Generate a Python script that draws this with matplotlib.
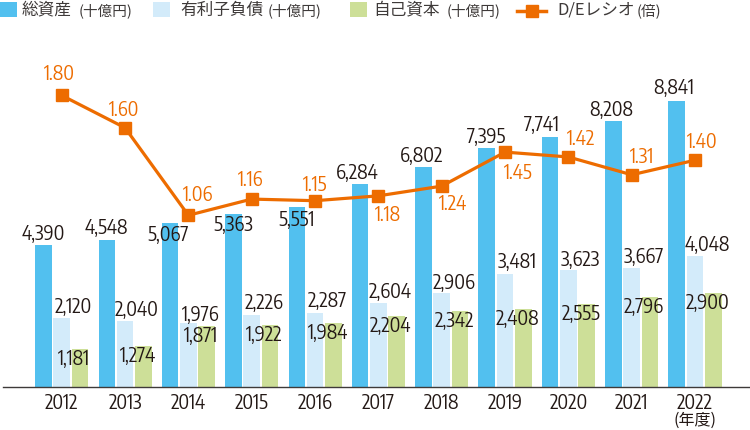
import matplotlib
matplotlib.use("Agg")
import matplotlib.pyplot as plt
from matplotlib.patches import Rectangle
from matplotlib.lines import Line2D
from matplotlib import font_manager as fm
from matplotlib.textpath import TextPath
import numpy as np
import os

# ---------------- data ----------------
years = ["2012", "2013", "2014", "2015", "2016", "2017", "2018", "2019", "2020", "2021", "2022"]
total_assets = [4390, 4548, 5067, 5363, 5551, 6284, 6802, 7395, 7741, 8208, 8841]
interest_debt = [2120, 2040, 1976, 2226, 2287, 2604, 2906, 3481, 3623, 3667, 4048]
equity = [1181, 1274, 1871, 1922, 1984, 2204, 2342, 2408, 2555, 2796, 2900]
de_ratio = [1.80, 1.60, 1.06, 1.16, 1.15, 1.18, 1.24, 1.45, 1.42, 1.31, 1.40]

legend_main = ["総資産", "有利子負債", "自己資本", "D/Eレシオ"]
legend_unit = ["(十億円)", "(十億円)", "(十億円)", "(倍)"]
year_unit = "(年度)"

# ---------------- styles ----------------
C_BLUE = "#52C0EF"
C_LBLUE = "#D3EBFA"
C_GREEN = "#CDDF98"
C_ORANGE = "#ED6C00"
C_TEXT = "#231815"
C_LEG = "#3E3A39"

CJK_FONT = ["Noto Sans CJK JP", "DejaVu Sans"]

W, H = 750, 430
PT = 0.72  # points per pixel at dpi 100
TARGET_W = 32.3  # ink width of "2012" in the reference, pixels


def pick_number_font():
    prefs = ["encodesanscondensedregular.ttf", "barlowcondensedregular.ttf",
             "ptsansnarrowwebregular.ttf", "robotocondensedregular.ttf"]
    files = {}
    for f in fm.fontManager.ttflist:
        key = os.path.basename(f.fname).lower().replace("-", "").replace("_", "")
        files[key] = f.fname
    for p in prefs:
        if p in files:
            fp = fm.FontProperties(fname=files[p])
            ext = TextPath((0, 0), "2012", size=100, prop=fp).get_extents()
            return fm.FontProperties(fname=files[p], size=100 * TARGET_W / ext.width * PT)
    fp = fm.FontProperties(family="Liberation Sans")
    ext = TextPath((0, 0), "2012", size=100, prop=fp).get_extents()
    return fm.FontProperties(family="Liberation Sans", size=100 * TARGET_W / ext.width * PT)


NUMFP = pick_number_font()

# label offsets in pixels (dx, dy up)
blue_dx = [0, 0, -2.5, 0, 0, -3, -2, 0, -8, -2.5, -2.7]
blue_dy = [11, 12, -12, -11.5, -13, 11, 11, 11, 12, 11, 13]
lb_dy = [11, 11, 8, 11.5, 12, 11, 10, 12, 10, 11, 10.7]
de_dx = [-2, -1, 10, -1.6, 0, 10, 11, 13, 13, 10, 7]
de_dy = [21, 18, 20, 19, 16, -19, -18, -21, 18, 18, 18]

fig = plt.figure(figsize=(W / 100, H / 100), dpi=100)
ax = fig.add_axes([3 / W, 43 / H, 747 / W, 347 / H])
ax2 = ax.twinx()

x = np.arange(len(years))
off = 0.288
bw = 0.262

ax.bar(x - off, total_assets, bw, color=C_BLUE, zorder=2)
ax.bar(x, interest_debt, bw, color=C_LBLUE, zorder=2)
ax.bar(x + off, equity, bw, color=C_GREEN, zorder=2)

ax.set_xlim(-0.927, 10.868)
ax.set_ylim(0, 10726)
ax2.set_ylim(0, 2.142)

for s in ["left", "right", "top"]:
    ax.spines[s].set_visible(False)
    ax2.spines[s].set_visible(False)
ax2.spines["bottom"].set_visible(False)
ax.spines["bottom"].set_color("#3E3A39")
ax.spines["bottom"].set_linewidth(1.0)
ax.set_yticks([])
ax2.set_yticks([])
ax.set_xticks(x)
ax.set_xticklabels(years, fontproperties=NUMFP, color=C_TEXT)
ax.tick_params(axis="x", length=0, pad=4)

# bar labels
for i in range(len(years)):
    ax.annotate(f"{total_assets[i]:,}", xy=(x[i] - off, total_assets[i]),
                xytext=(blue_dx[i] * PT, blue_dy[i] * PT), textcoords="offset points",
                ha="center", va="center", fontproperties=NUMFP, color=C_TEXT, zorder=5)
    ax.annotate(f"{interest_debt[i]:,}", xy=(x[i], interest_debt[i]),
                xytext=(12 * PT, lb_dy[i] * PT), textcoords="offset points",
                ha="center", va="center", fontproperties=NUMFP, color=C_TEXT, zorder=5)
    ax.annotate(f"{equity[i]:,}", xy=(x[i], equity[i]),
                xytext=(12.5 * PT, -10 * PT), textcoords="offset points",
                ha="center", va="center", fontproperties=NUMFP, color=C_TEXT, zorder=5)

# year unit
ax.annotate(year_unit, xy=(x[-1], 0), xytext=(0, -33 * PT), textcoords="offset points",
            ha="center", va="center", fontsize=11.5, family=CJK_FONT, color=C_TEXT,
            annotation_clip=False)

# D/E line
ax2.plot(x, de_ratio, color=C_ORANGE, lw=2.3, marker="s", ms=8.5,
         mfc=C_ORANGE, mec=C_ORANGE, zorder=4, clip_on=False)
for i in range(len(years)):
    ax2.annotate(f"{de_ratio[i]:.2f}", xy=(x[i], de_ratio[i]),
                 xytext=(de_dx[i] * PT, de_dy[i] * PT), textcoords="offset points",
                 ha="center", va="center", fontproperties=NUMFP, color=C_ORANGE)

# ---------------- legend ----------------
def fx(px):
    return px / W


def fy(py):
    return 1 - py / H


sq_x = [0, 153, 350]
sq_c = [C_BLUE, C_LBLUE, C_GREEN]
for sx, c in zip(sq_x, sq_c):
    fig.add_artist(Rectangle((fx(sx), fy(17)), 17 / W, 15 / H,
                             transform=fig.transFigure, color=c, lw=0))
fig.add_artist(Line2D([fx(517), fx(546)], [fy(11), fy(11)], transform=fig.transFigure,
                      color=C_ORANGE, lw=2.5))
fig.add_artist(Line2D([fx(531.5)], [fy(11)], transform=fig.transFigure,
                      color=C_ORANGE, marker="s", ms=8.5, lw=0))

main_x = [22, 180, 373, 557]
unit_x = [79, 268, 447, 637]
for t, tx in zip(legend_main, main_x):
    fig.text(fx(tx), fy(10), t, ha="left", va="center", fontsize=12,
             family=CJK_FONT, color=C_LEG)
for t, tx in zip(legend_unit, unit_x):
    fig.text(fx(tx), fy(10.5), t, ha="left", va="center", fontsize=10.5,
             family=CJK_FONT, color=C_LEG)

fig.savefig("out.png", dpi=100)
